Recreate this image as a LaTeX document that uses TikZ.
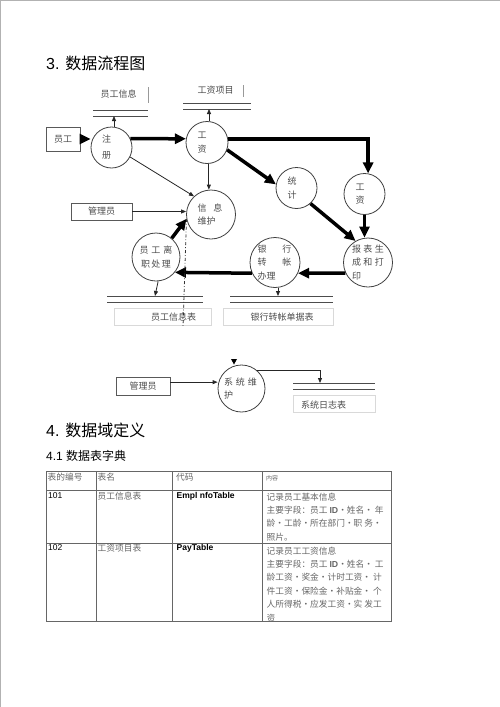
\documentclass[tikz,border=0pt]{standalone}
\usepackage{fontspec}
\setmainfont{Liberation Sans}
\newfontfamily\cjk{Noto Sans CJK SC}
\newfontfamily\lat{Liberation Sans}
\usetikzlibrary{arrows.meta}

\newcommand{\storelines}[3] {
    \draw[storeline] (#1,#3) -- (#2,#3);
    \draw[storeline] (#1,{#3+6}) -- (#2,{#3+6});
}

\tikzset{
    proc/.style={draw=black!75,line width=0.8pt,circle,inner sep=0,align=left,
        font=\cjk\fontsize{9}{13.5}\selectfont,text=black!70},
    ext/.style={draw=black!65,line width=0.8pt,rectangle,inner sep=0,
        font=\cjk\fontsize{9}{11}\selectfont,text=black!70},
    lbl/.style={inner sep=0,font=\cjk\fontsize{9}{11}\selectfont,text=black!70},
    flow/.style={-{Triangle[length=5pt,width=4pt]},black!85,line width=0.8pt},
    bigflow/.style={-{Triangle[length=11pt,width=10pt]},black,line width=3.5pt},
    storeline/.style={black!70,line width=0.9pt},
    boxline/.style={black!15,line width=0.8pt},
    tableline/.style={black!60,line width=0.9pt},
    cell/.style={anchor=west,inner sep=0,font=\cjk\fontsize{8.7}{13.4}\selectfont,text=black!60},
    num/.style={anchor=west,inner sep=0,font=\lat\fontsize{8.5}{10}\selectfont},
    code/.style={anchor=west,inner sep=0,font=\lat\bfseries\fontsize{8.5}{10}\selectfont},
    desc/.style={anchor=north west,inner sep=0,align=left,
        font=\cjk\fontsize{8.7}{13.4}\selectfont,text=black!60},
}

\begin{document}
\begin{tikzpicture}[x=1pt,y=-1pt]
    \useasboundingbox (0,0) rectangle (500,707);
    \draw[black!30,line width=1.2pt] (0.6,707) -- (0.6,0.6) -- (500,0.6);

    \node[anchor=west,inner sep=0,font=\fontsize{16}{16}\selectfont] (t3) at (46,63) {3. {\cjk 数据流程图}};

    \node[ext,minimum width=34pt,minimum height=24pt] (yg) at (63,139) {员工};
    \node[ext,minimum width=61pt,minimum height=17pt] (gly) at (101.5,211.5) {管理员};

    \node[proc,minimum size=41pt,text width=19pt] (zc) at (111.5,147.5) {注\\[2.5pt]册};
    \node[proc,minimum size=42pt,text width=19pt] (gz) at (207,142.5) {工\\资};
    \node[proc,minimum size=41pt,text width=18pt] (tj) at (296.5,188) {统\\计};
    \node[proc,minimum size=41pt,text width=18pt] (gz2) at (364.5,194) {工\\资};
    \node[proc,minimum size=49pt,text width=27pt] (xx) at (211,214.5) {信\hspace{7pt}息\\维护};
    \node[proc,minimum size=48pt,text width=36pt,align=center] (lz) at (156,257)
        {员\hspace{3pt}工\hspace{3pt}离\\职\hspace{1.5pt}处\hspace{1.5pt}理};
    \node[proc,minimum size=50pt,text width=35pt] (yh) at (275,262.5)
        {银\hspace{16pt}行\\转\hspace{16pt}帐\\办理};
    \node[proc,minimum size=49pt,text width=32pt] (bb) at (368,262.5)
        {报\hspace{2.5pt}表\hspace{2.5pt}生\\成\hspace{2.5pt}和\hspace{2.5pt}打\\印};

    \storelines{93}{148}{110}
    \node[lbl] (ygxx) at (118.5,94) {员工信息};
    \draw[black!40] (148,87) -- (148,103);
    \coordinate (s1) at (114,116);

    \storelines{183}{251}{103}
    \node[lbl] (gzxm) at (215.5,90) {工资项目};
    \draw[black!40] (243,85) -- (243,97);
    \coordinate (s2) at (209,109);

    \storelines{107}{203}{296}
    \draw[boxline] (114,308) rectangle (211,325);
    \node[lbl] (ygxxb) at (173.5,317) {员工信息表};
    \coordinate (s3) at (155,296);

    \storelines{230}{333}{296}
    \draw[boxline] (223,308) rectangle (333,325);
    \node[lbl] (yhzz) at (282,317) {银行转帐单据表};
    \coordinate (s4) at (278,296);

    \draw[bigflow] (yg.east) -- (yg.east -| zc.west);
    \draw[bigflow] (zc.25) -- (gz.170);
    \draw[bigflow] (gz.10) -| (gz2.80);
    \draw[bigflow] (gz.-20) -- (tj.170);
    \draw[bigflow] (tj.-48) -- (bb.120);
    \draw[bigflow] (gz2.south) -- (gz2.south |- bb.north);
    \draw[bigflow] (bb.205) -- (yh.-25);
    \draw[bigflow] (yh.205) -- (lz.-39);
    \draw[bigflow] (lz.50) -- (xx.190);

    \draw[flow] (s1 |- zc.north) -- (s1);
    \draw[flow] (s2 |- gz.north) -- (s2);
    \draw[flow] (gz.-85) -- (gz.-85 |- xx.north);
    \draw[flow] (zc.-27) -- (xx.133);
    \draw[flow] (gly.east) -- (gly.east -| xx.west);
    \draw[flow] (lz.-85) -- (s3);
    \draw[flow] (s4 |- yh.south) -- (s4);

    \coordinate (dl) at (183,327);
    \draw[black!80,line width=0.8pt,dash dot] (xx.190) -- (dl);

    \node[ext,minimum width=54pt,minimum height=18pt] (gly2) at (143,386) {管理员};
    \node[proc,minimum size=47pt,text width=35pt] (xt) at (241.5,388.5)
        {系\hspace{3pt}统\hspace{3pt}维\\护};
    \fill[black] (231,359) -- (237,359) -- (234,364.5) -- cycle;
    \storelines{293}{375}{383}
    \draw[boxline] (293,395) rectangle (375,412);
    \node[lbl] (xtrz) at (323.5,405) {系统日志表};
    \coordinate (s5) at (320,383);
    \draw[flow] (gly2.8) -- (gly2.8 -| xt.west);
    \draw[flow] (xt.48) -| (s5);

    \node[anchor=west,inner sep=0,font=\fontsize{16}{16}\selectfont] (t4) at (46,430) {4. {\cjk 数据域定义}};
    \node[anchor=west,inner sep=0,font=\fontsize{12}{12}\selectfont] (t41) at (46,456) {4.1 {\cjk 数据表字典}};

    \draw[tableline] (46,471) rectangle (391,621);
    \foreach \x in {96,172,262}
        \draw[tableline] (\x,471) -- (\x,621);
    \foreach \y in {490,543}
        \draw[tableline] (46,\y) -- (391,\y);

    \node[cell] (h1) at (47.5,477) {表的编号};
    \node[cell] (h2) at (97.5,477) {表名};
    \node[cell] (h3) at (176,477) {代码};
    \node[cell,font=\cjk\fontsize{6}{6}\selectfont] (h4) at (266,478) {内容};

    \node[num] (n101) at (48,496) {101};
    \node[cell] (m101) at (97.5,496) {员工信息表};
    \node[code] (c101) at (176.5,496) {Empl nfoTable};
    \node[desc] (d101) at (266.5,492.5)
        {记录员工基本信息\\主要字段：员工 {\lat\bfseries ID}・姓名・ 年\\龄・工龄・所在部门・职 务・\\照片。};

    \node[num] (n102) at (48,548) {102};
    \node[cell] (m102) at (97.5,548) {工资项目表};
    \node[code] (c102) at (176.5,548) {PayTable};
    \node[desc] (d102) at (266.5,546.5)
        {记录员工工资信息\\主要字段：员工 {\lat\bfseries ID}・姓名・ 工\\龄工资・奖金・计时工资・ 计\\件工资・保险金・补贴金・ 个\\人所得税・应发工资・实 发工\\资};
\end{tikzpicture}
\end{document}
